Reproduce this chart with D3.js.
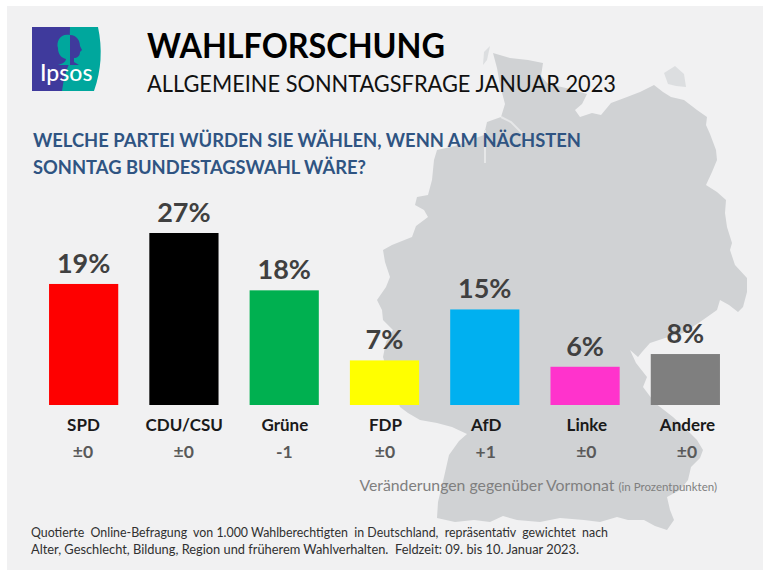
<!DOCTYPE html>
<html>
<head>
<meta charset="utf-8">
<script src="https://cdn.jsdelivr.net/npm/d3@7/dist/d3.min.js"></script>
<style>
html,body{margin:0;padding:0;background:#fff}
svg{display:block}
text{font-family:Lato,"Open Sans",sans-serif;white-space:pre}
</style>
</head>
<body>
<svg id="c" width="768" height="576"></svg>
<script>
const categories = ["SPD","CDU/CSU","Grüne","FDP","AfD","Linke","Andere"];
const values = [19,27,18,7,15,6,8];
const changes = ["±0","±0","-1","±0","+1","±0","±0"];
const barColors = ["#fe0000","#000000","#00b050","#ffff00","#00b0f0","#ff33cc","#7f7f7f"];

const titleText = "WAHLFORSCHUNG";
const subtitleText = "ALLGEMEINE SONNTAGSFRAGE JANUAR 2023";
const questionLines = ["WELCHE PARTEI WÜRDEN SIE WÄHLEN, WENN AM NÄCHSTEN","SONNTAG BUNDESTAGSWAHL WÄRE?"];
const questionWidths = [548,333];
const changeNote = "Veränderungen gegenüber Vormonat ";
const changeUnit = "(in Prozentpunkten)";
const footLines = ["Quotierte  Online-Befragung  von 1.000 Wahlberechtigten  in Deutschland,  repräsentativ  gewichtet  nach",
                   "Alter, Geschlecht, Bildung, Region und früherem Wahlverhalten.  Feldzeit: 09. bis 10. Januar 2023."];
const footWidths = [577,548];

// Backdrop outline of Germany
const mapOutline = [[493,53],[510,58],[528,60],[543,63],[541,76],[548,84],[566,88],[587,94],[582,104],[575,110],[580,117],
 [592,113],[601,115],[611,103],[627,97],[640,92],[654,85],[663,92],[671,97],[684,100],[697,110],[707,117],[706,125],[710,134],
 [716,150],[717,160],[712,172],[706,185],[717,192],[726,200],[725,213],[727,227],[732,243],[730,250],[735,265],[747,278],
 [747,292],[743,307],[738,312],[729,305],[720,300],[717,310],[700,322],[683,333],[665,338],[650,343],[642,352],[638,357],[630,350],
 [636,363],[647,377],[643,387],[655,403],[673,417],[687,430],[697,440],[703,450],[700,458],[691,467],[688,480],[680,490],[667,497],
 [670,510],[674,520],[667,530],[655,526],[644,520],[628,520],[617,517],[600,522],[584,520],[560,518],[540,522],[517,520],
 [503,516],[490,522],[474,520],[455,522],[437,518],[438,502],[444,477],[449,455],[459,441],[467,434],[452,427],[437,423],
 [420,420],[408,413],[400,407],[392,385],[383,357],[386,342],[393,330],[383,320],[382,310],[377,300],[386,287],[390,277],[385,262],
 [383,250],[392,245],[412,237],[416,226],[428,217],[424,210],[415,205],[417,197],[428,195],[432,180],[434,160],[437,150],[455,146],
 [470,140],[484,135],[487,122],[501,117],[505,104],[500,85],[497,68]];
const mapIslands = [[[664,73],[675,66],[684,74],[686,87],[676,86],[668,84]],[[490,46],[484,52],[483,65],[487,60]]];
const mapWaterways = [[[485,130],[485,163]],[[501,117],[511,122],[523,134],[527,142]]];

const svg = d3.select("#c");

// panel
svg.append("rect").attr("x",7).attr("y",6).attr("width",756).attr("height",564).attr("fill","#f1f1f2");

// map
const line = d3.line().curve(d3.curveLinear);
svg.append("path").attr("d",line(mapOutline)+"Z").attr("fill","#d0d2d4");
svg.selectAll("path.isl").data(mapIslands).join("path").attr("class","isl")
  .attr("d",d=>line(d)+"Z").attr("fill","#dcdee0");
svg.selectAll("path.riv").data(mapWaterways).join("path").attr("class","riv")
  .attr("d",d=>line(d)).attr("fill","none").attr("stroke","#e6e7e8").attr("stroke-width",2);

// logo
const logo = svg.append("g");
logo.append("rect").attr("x",32).attr("y",27).attr("width",50).attr("height",64).attr("fill","#3f3a9c");
logo.append("path").attr("d","M70 27 L98 27 Q105 60 94 91 L62 91 Q64 75 69 64 Z").attr("fill","#00a79d");
logo.append("path").attr("d","M70 35 C60 33 56 42 58 48 C58 55 62 58 66 59 C66 62 62 64 58 65 L70 65 Z").attr("fill","#00a79d");
logo.append("path").attr("d","M70 35 C77 35 80 41 80 46 L82 50 L80 52 C80 56 77 58 74 58 L74 62 L79 65 L70 65 Z").attr("fill","#3f3a9c");
logo.append("text").attr("x",40).attr("y",81).attr("font-size",23).attr("font-weight",500).attr("fill","#fff").text("Ipsos");

// heading
svg.append("text").attr("x",147).attr("y",58).attr("font-size",35).attr("font-weight",700).attr("fill","#000")
  .attr("textLength",298).attr("lengthAdjust","spacingAndGlyphs").text(titleText);
svg.append("text").attr("x",147).attr("y",92).attr("font-size",22.5).attr("fill","#111")
  .attr("textLength",469).attr("lengthAdjust","spacingAndGlyphs").text(subtitleText);
svg.selectAll("text.q").data(questionLines).join("text").attr("class","q")
  .attr("x",33).attr("y",(d,i)=>147+i*27).attr("font-size",19).attr("font-weight",700).attr("fill","#2f5482")
  .attr("textLength",(d,i)=>questionWidths[i]).attr("lengthAdjust","spacingAndGlyphs").text(d=>d);

// scales
const x = d3.scaleBand().domain(categories).range([33.5,735.5]).paddingInner(0.31).paddingOuter(0.155);
const y = d3.scaleLinear().domain([0,27]).range([405,233]);
const xLabel = d3.scalePoint().domain(categories).range([83,687]);

svg.selectAll("rect.bar").data(categories).join("rect").attr("class","bar")
  .attr("x",d=>x(d)).attr("width",x.bandwidth())
  .attr("y",(d,i)=>y(values[i])).attr("height",(d,i)=>y(0)-y(values[i]))
  .attr("fill",(d,i)=>barColors[i]);

svg.selectAll("text.val").data(categories).join("text").attr("class","val")
  .attr("x",d=>x(d)+x.bandwidth()/2).attr("y",(d,i)=>y(values[i])-11)
  .attr("text-anchor","middle").attr("font-size",27).attr("font-weight",700).attr("fill","#404040")
  .text((d,i)=>values[i]+"%");

// category labels via axis
const axis = d3.axisBottom(xLabel).tickSize(0).tickPadding(0);
const ax = svg.append("g").attr("transform","translate(0,418.5)").call(axis);
ax.select(".domain").remove();
ax.selectAll("text").attr("font-family","Lato").attr("font-size",17).attr("font-weight",700).attr("fill","#1a1a1a");

// month-on-month change
svg.selectAll("text.chg").data(categories).join("text").attr("class","chg")
  .attr("x",d=>xLabel(d)).attr("y",458)
  .attr("text-anchor","middle").attr("font-size",17.5).attr("font-weight",700).attr("fill","#595959")
  .text((d,i)=>changes[i]);

// note
const note = svg.append("text").attr("x",717).attr("y",491).attr("text-anchor","end").attr("fill","#7f7f7f");
note.append("tspan").attr("font-size",15.8).text(changeNote);
note.append("tspan").attr("font-size",11.5).text(changeUnit);

// footer
svg.selectAll("text.f").data(footLines).join("text").attr("class","f")
  .attr("x",31).attr("y",(d,i)=>537+i*16.5).attr("font-size",12.5).attr("fill","#303030")
  .attr("textLength",(d,i)=>footWidths[i]).attr("lengthAdjust","spacingAndGlyphs").text(d=>d);
</script>
</body>
</html>
